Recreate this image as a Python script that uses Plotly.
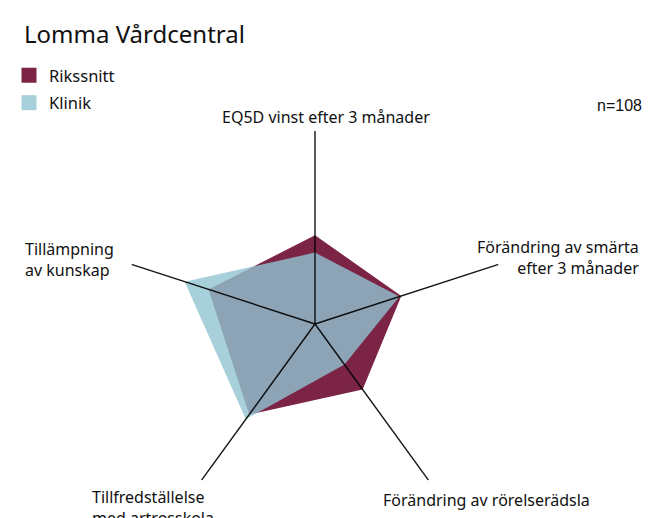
import plotly.graph_objects as go

categories = [
    "EQ5D vinst efter 3 månader",
    "Förändring av smärta<br>efter 3 månader",
    "Förändring av rörelserädsla",
    "Tillfredställelse<br>med artrosskola",
    "Tillämpning<br>av kunskap",
]
rikssnitt = [46, 47, 42, 58, 58]
klinik = [37, 46, 26, 61, 71]
axis_max = 100
series_names = ["Rikssnitt", "Klinik"]
title_text = "Lomma Vårdcentral"
n_text = "n=108"

RED = "#7B2446"
BLUE_FILL = "rgba(145,196,210,0.80)"
BLUE_LEG = "#A7D0DB"
FONT = "Noto Sans"

# the page adds an 8px body margin, so the figure is drawn 8px smaller
OFF = 8
W, H = 653 - OFF, 518 - OFF
cx, cy, R = 315 - OFF, 324 - OFF, 193


def px(x):
    return (x - OFF) / W


def py(y):
    return 1 - (y - OFF) / H


fig = go.Figure()


def closed(v):
    return list(v) + [v[0]]


fig.add_trace(go.Scatterpolar(
    r=closed(rikssnitt), theta=closed(categories), fill="toself",
    fillcolor=RED, mode="lines", line=dict(width=0, color=RED),
    showlegend=False, hoverinfo="skip"))
fig.add_trace(go.Scatterpolar(
    r=closed(klinik), theta=closed(categories), fill="toself",
    fillcolor=BLUE_FILL, mode="lines", line=dict(width=0, color=BLUE_FILL),
    showlegend=False, hoverinfo="skip"))
# spokes
for c in categories:
    fig.add_trace(go.Scatterpolar(
        r=[0, axis_max], theta=[c, c], mode="lines",
        line=dict(color="rgba(0,0,0,0.92)", width=1.4),
        showlegend=False, hoverinfo="skip"))
# legend entries
fig.add_trace(go.Scatterpolar(r=[None], theta=[categories[0]], mode="markers",
                              marker=dict(symbol="square", size=15, color=RED),
                              name=series_names[0], legendgroup="a"))
fig.add_trace(go.Scatterpolar(r=[None], theta=[categories[0]], mode="markers",
                              marker=dict(symbol="square", size=15, color=BLUE_LEG),
                              name=series_names[1], legendgroup="b"))

fig.update_layout(
    width=W, height=H,
    margin=dict(l=0, r=0, t=0, b=0),
    paper_bgcolor="white", plot_bgcolor="white",
    font=dict(family=FONT, size=15, color="#1a1a1a"),
    polar=dict(
        domain=dict(x=[(cx - R) / W, (cx + R) / W],
                    y=[max(0, (H - cy - R) / H), (H - cy + R) / H]),
        bgcolor="rgba(0,0,0,0)",
        radialaxis=dict(visible=False, range=[0, axis_max]),
        angularaxis=dict(direction="clockwise", rotation=90,
                         showline=False, showgrid=False, showticklabels=False,
                         ticks=""),
    ),
    title=dict(text=title_text, x=px(24), xanchor="left", xref="paper",
               y=py(35), yanchor="middle", yref="paper",
               font=dict(family=FONT, size=24, color="#111")),
    legend=dict(x=px(9), y=py(58), xanchor="left", yanchor="top",
                font=dict(family=FONT, size=16.5, color="#111"),
                tracegroupgap=3, itemwidth=30, bgcolor="rgba(0,0,0,0)"),
)

# axis labels (text positions, page pixels)
label_pos = [
    dict(x=326, y=117, xanchor="center", align="center"),
    dict(x=641, y=257, xanchor="right", align="right"),
    dict(x=381, y=500, xanchor="left", align="left"),
    dict(x=90, y=507, xanchor="left", align="left"),
    dict(x=23, y=259, xanchor="left", align="left"),
]
for c, p in zip(categories, label_pos):
    fig.add_annotation(text=c, x=px(p["x"]), y=py(p["y"]), xref="paper", yref="paper",
                       xanchor=p["xanchor"], yanchor="middle", align=p["align"],
                       showarrow=False, font=dict(family=FONT, size=16, color="#111"))

fig.add_annotation(text=n_text, x=px(644), y=py(105), xref="paper", yref="paper",
                   xanchor="right", yanchor="middle", showarrow=False,
                   font=dict(family="Liberation Sans", size=16, color="#111"))

fig.write_html("out.html")
